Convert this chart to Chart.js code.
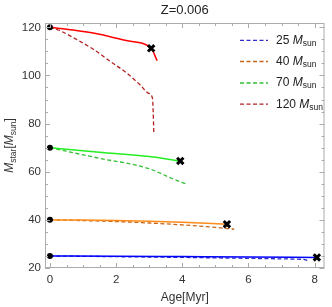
<!DOCTYPE html>
<html>
<head>
<meta charset="utf-8">
<script src="https://cdn.jsdelivr.net/npm/chart.js@4.4.1/dist/chart.umd.min.js"></script>
<style>
  html, body { margin: 0; padding: 0; background: #fff; }
</style>
</head>
<body>
<canvas id="chart" width="332" height="307"></canvas>
<script>
// tick labels
const xTicks = [0, 2, 4, 6, 8];
const yTicks = [20, 40, 60, 80, 100, 120];

// legend entries (initial mass, M_sun)
const masses = [25, 40, 70, 120];

// [age Myr, mass M_sun]
const solid25 = [[0, 25], [2, 24.9], [4, 24.75], [6, 24.6], [8.07, 24.4]];
const dashed25 = [[0, 25], [2, 24.7], [4, 24.4], [6, 24.0], [7.4, 23.7], [7.7, 23.5], [7.8, 23.0]];
const solid40 = [[0, 40], [1, 39.9], [2, 39.7], [3, 39.4], [4, 39.0], [5.35, 38.2]];
const dashed40 = [[0, 40], [1, 39.7], [2, 39.3], [3, 38.7], [4, 37.9], [5, 36.9], [5.57, 36.1]];
const solid70 = [[0, 70], [1.49, 68.1], [3, 66.3], [3.94, 64.5]];
const dashed70 = [[0, 70], [1.49, 65.6], [2.97, 61.4], [3.67, 57.3], [4.14, 54.8]];
const solid120 = [[0, 120], [0.7, 118.9], [1.35, 117.5], [2.35, 114.4], [3.06, 111.3], [3.24, 106.1]];
const dashed120 = [[0, 120], [0.25, 118.9], [0.84, 114.7], [1.34, 110.6], [1.84, 105.7], [2.33, 100.9],
                   [2.73, 96.0], [2.98, 92.6], [3.1, 90.5], [3.12, 85], [3.14, 76.2]];

// start points and end crosses
const startAge = [0, 0, 0, 0];
const startMass = [25, 40, 70, 120];
const endAge = [8.07, 5.35, 3.94, 3.06];
const endMass = [24.4, 38.2, 64.5, 111.3];

const solidColors = ['#0000ff', '#ff8c1a', '#22ee22', '#ff0000'];
const dashedColors = ['#3030c8', '#c8661a', '#33c033', '#b02222'];

const toXY = arr => arr.map(p => ({ x: p[0], y: p[1] }));

const FONT = '"Liberation Sans", Arial, sans-serif';

function lineSet(data, color, dashed) {
    return {
        data: toXY(data),
        showLine: true,
        borderColor: color,
        borderWidth: dashed ? 1.3 : 1.5,
        borderDash: dashed ? [4, 2.5] : [],
        pointRadius: 0,
        cubicInterpolationMode: 'monotone',
        fill: false
    };
}

const datasets = [
    {
        data: endAge.map((a, i) => ({ x: a, y: endMass[i] })),
        pointStyle: 'crossRot', pointRadius: 4.5, borderWidth: 3,
        borderColor: '#000', backgroundColor: '#000', showLine: false
    },
    {
        data: startAge.map((a, i) => ({ x: a, y: startMass[i] })),
        pointStyle: 'circle', pointRadius: 3, borderWidth: 0,
        backgroundColor: '#000', borderColor: '#000', showLine: false
    },
    lineSet(solid25, solidColors[0], false),
    lineSet(solid40, solidColors[1], false),
    lineSet(solid70, solidColors[2], false),
    lineSet(solid120, solidColors[3], false),
    lineSet(dashed25, dashedColors[0], true),
    lineSet(dashed40, dashedColors[1], true),
    lineSet(dashed70, dashedColors[2], true),
    lineSet(dashed120, dashedColors[3], true)
];

// draws text pieces (italic M, subscripts), returns advance
function drawSubText(ctx, parts, x, y, measureOnly) {
    let cx = x;
    parts.forEach(p => {
        ctx.font = p.font;
        const w = ctx.measureText(p.t).width;
        if (!measureOnly) ctx.fillText(p.t, cx, y + (p.dy || 0));
        cx += w;
    });
    return cx - x;
}

const framePlugin = {
    id: 'frame',
    afterDraw(chart) {
        const ctx = chart.ctx;
        const a = chart.chartArea;
        const xs = chart.scales.x, ys = chart.scales.y;
        ctx.save();
        ctx.strokeStyle = '#ababab';
        ctx.lineWidth = 1;
        ctx.strokeRect(a.left + 0.5, a.top + 0.5, a.right - a.left - 1, a.bottom - a.top - 1);

        ctx.beginPath();
        for (let v = 0; v <= 8.25; v += 0.5) {
            const px = Math.round(xs.getPixelForValue(v)) + 0.5;
            const len = (v % 2 === 0) ? 5 : 3;
            ctx.moveTo(px, a.bottom); ctx.lineTo(px, a.bottom - len);
            ctx.moveTo(px, a.top); ctx.lineTo(px, a.top + len);
        }
        for (let v = 20; v <= 121; v += 5) {
            const py = Math.round(ys.getPixelForValue(v)) + 0.5;
            const len = (v % 20 === 0) ? 5 : 3;
            ctx.moveTo(a.left, py); ctx.lineTo(a.left + len, py);
            ctx.moveTo(a.right, py); ctx.lineTo(a.right - len, py);
        }
        ctx.stroke();

        const cx = (a.left + a.right) / 2;
        ctx.fillStyle = '#222';
        ctx.textAlign = 'center';
        ctx.textBaseline = 'middle';
        ctx.font = '13px ' + FONT;
        ctx.fillText('Z=0.006', cx, 10);

        ctx.fillStyle = '#333';
        ctx.font = '12px ' + FONT;
        ctx.fillText('Age[Myr]', cx, 298);

        // y title
        ctx.textAlign = 'left';
        ctx.textBaseline = 'alphabetic';
        const yParts = [
            { t: 'M', font: 'italic 12px ' + FONT },
            { t: 'star', font: '8.5px ' + FONT, dy: 3 },
            { t: '[', font: '12px ' + FONT },
            { t: 'M', font: 'italic 12px ' + FONT },
            { t: 'sun', font: '8.5px ' + FONT, dy: 3 },
            { t: ']', font: '12px ' + FONT }
        ];
        const w = drawSubText(ctx, yParts, 0, 0, true);
        ctx.translate(13, (a.top + a.bottom) / 2);
        ctx.rotate(-Math.PI / 2);
        drawSubText(ctx, yParts, -w / 2, 0, false);
        ctx.restore();

        // legend
        ctx.save();
        const rows = [40.3, 61.5, 83, 104.2];
        masses.forEach((m, i) => {
            const y = rows[i];
            ctx.strokeStyle = dashedColors[i];
            ctx.lineWidth = 1.3;
            ctx.setLineDash([4, 2.5]);
            ctx.beginPath();
            ctx.moveTo(240, y); ctx.lineTo(268, y);
            ctx.stroke();
            ctx.fillStyle = '#222';
            ctx.textBaseline = 'middle';
            ctx.textAlign = 'left';
            drawSubText(ctx, [
                { t: m + ' ', font: '12px ' + FONT },
                { t: 'M', font: 'italic 12px ' + FONT },
                { t: 'sun', font: '8.5px ' + FONT, dy: 3 }
            ], 276, y, false);
        });
        ctx.restore();
    }
};

new Chart(document.getElementById('chart'), {
    type: 'scatter',
    data: { datasets: datasets },
    options: {
        responsive: false,
        animation: false,
        devicePixelRatio: 1,
        layout: { padding: { top: 23, right: 3, left: 0, bottom: 0 } },
        plugins: {
            legend: { display: false },
            tooltip: { enabled: false }
        },
        scales: {
            x: {
                type: 'linear',
                min: -0.15,
                max: 8.3,
                afterBuildTicks: s => { s.ticks = xTicks.map(v => ({ value: v })); },
                afterFit: s => { s.height = 39; },
                grid: { display: false, drawTicks: false },
                border: { display: false },
                ticks: { color: '#333', padding: 5, font: { family: FONT, size: 11.5 } }
            },
            y: {
                type: 'linear',
                min: 20,
                max: 121.8,
                afterBuildTicks: s => { s.ticks = yTicks.map(v => ({ value: v })); },
                afterFit: s => { s.width = 45; },
                grid: { display: false, drawTicks: false },
                border: { display: false },
                ticks: { color: '#333', padding: 4, font: { family: FONT, size: 11.5 } }
            }
        }
    },
    plugins: [framePlugin]
});
</script>
</body>
</html>
